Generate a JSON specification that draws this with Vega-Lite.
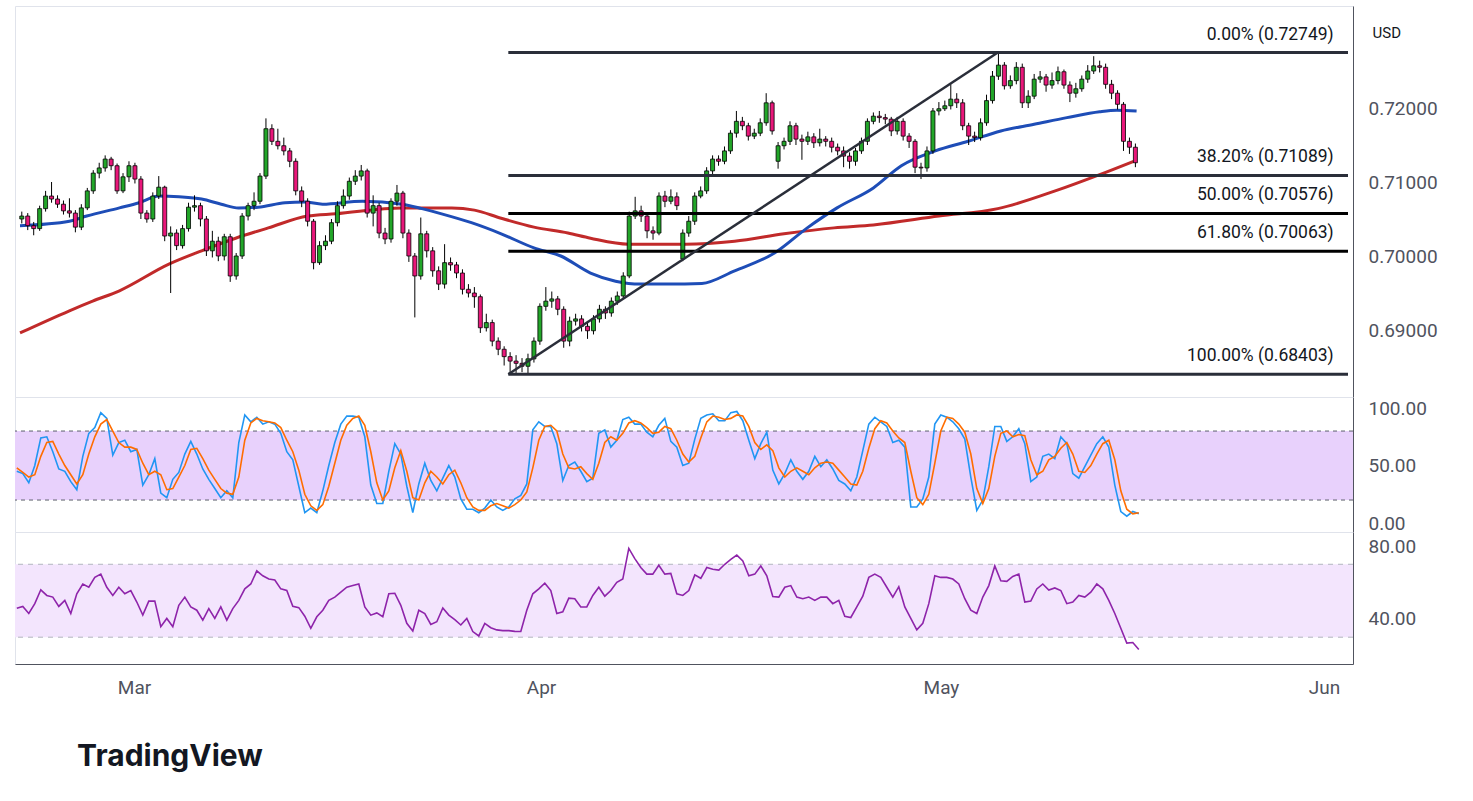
{
"$schema":"https://vega.github.io/schema/vega-lite/v6.json",
"background":"white",
"padding":{"left":13,"top":5,"right":10,"bottom":10},
"bounds":"flush",
"spacing":0,
"config":{"view":{"stroke":"#e0e3eb"},"font":"Roboto","axis":{"grid":false,"ticks":false}},
"title":{"text":"TradingView","orient":"bottom","anchor":"start","dx":64,"offset":44,"font":"Inter","fontSize":30,"fontWeight":"bold","color":"#131722"},
"datasets":{
"fib":[{"p":0.72749,"t":"0.00% (0.72749)"},{"p":0.71089,"t":"38.20% (0.71089)"},{"p":0.70576,"t":"50.00% (0.70576)"},{"p":0.70063,"t":"61.80% (0.70063)"},{"p":0.68403,"t":"100.00% (0.68403)"}],
"blue":[{"i":-0.3,"v":0.7041},{"i":8.0,"v":0.7047},{"i":10.9,"v":0.7054},{"i":16.4,"v":0.7065},{"i":19.7,"v":0.7072},{"i":23.0,"v":0.7081},{"i":26.4,"v":0.7080},{"i":30.2,"v":0.7077},{"i":33.5,"v":0.7070},{"i":36.4,"v":0.7065},{"i":39.7,"v":0.7066},{"i":44.2,"v":0.7072},{"i":47.5,"v":0.7073},{"i":50.5,"v":0.7070},{"i":57.2,"v":0.7074},{"i":63.9,"v":0.7070},{"i":67.2,"v":0.7064},{"i":70.5,"v":0.7057},{"i":75.5,"v":0.7045},{"i":80.5,"v":0.7030},{"i":86.0,"v":0.7011},{"i":90.5,"v":0.7000},{"i":95.5,"v":0.6977},{"i":99.7,"v":0.6966},{"i":103.9,"v":0.6962},{"i":108.5,"v":0.6962},{"i":114.2,"v":0.6963},{"i":119.7,"v":0.6980},{"i":126.4,"v":0.7004},{"i":131.9,"v":0.7038},{"i":136.9,"v":0.7065},{"i":143.0,"v":0.7092},{"i":147.7,"v":0.7122},{"i":153.4,"v":0.7142},{"i":158.9,"v":0.7155},{"i":164.4,"v":0.7169},{"i":170.0,"v":0.7178},{"i":175.5,"v":0.7187},{"i":181.0,"v":0.7195},{"i":183.9,"v":0.7197},{"i":187.2,"v":0.7196}],
"red":[{"i":-0.3,"v":0.6896},{"i":8.0,"v":0.6926},{"i":11.9,"v":0.6939},{"i":16.4,"v":0.6953},{"i":24.7,"v":0.6989},{"i":30.2,"v":0.7007},{"i":35.9,"v":0.7024},{"i":41.4,"v":0.7038},{"i":48.0,"v":0.7054},{"i":52.7,"v":0.7057},{"i":63.9,"v":0.7065},{"i":72.2,"v":0.7065},{"i":76.0,"v":0.7062},{"i":80.5,"v":0.7051},{"i":86.0,"v":0.7039},{"i":91.7,"v":0.7031},{"i":95.5,"v":0.7024},{"i":101.9,"v":0.7016},{"i":111.4,"v":0.7016},{"i":119.7,"v":0.7020},{"i":128.0,"v":0.7030},{"i":136.4,"v":0.7038},{"i":143.0,"v":0.7042},{"i":154.0,"v":0.7054},{"i":163.9,"v":0.7064},{"i":173.9,"v":0.7089},{"i":181.0,"v":0.7110},{"i":186.7,"v":0.7128}],
"bars":[
{"i":0,"o":0.7050,"h":0.7060,"l":0.7044,"c":0.7054,"k":45,"d":48,"r":45.9},
{"i":1,"o":0.7054,"h":0.7058,"l":0.7035,"c":0.7041,"k":43,"d":44,"r":46.9},
{"i":2,"o":0.7041,"h":0.7046,"l":0.7028,"c":0.7037,"k":35,"d":40,"r":43},
{"i":3,"o":0.7037,"h":0.7068,"l":0.7034,"c":0.7064,"k":50,"d":42,"r":48.4},
{"i":4,"o":0.7064,"h":0.7088,"l":0.7060,"c":0.7081,"k":74,"d":58,"r":56},
{"i":5,"o":0.7081,"h":0.7100,"l":0.7072,"c":0.7077,"k":75,"d":70,"r":52.9},
{"i":6,"o":0.7077,"h":0.7082,"l":0.7065,"c":0.7070,"k":62,"d":71,"r":52},
{"i":7,"o":0.7070,"h":0.7075,"l":0.7056,"c":0.7061,"k":47,"d":60,"r":46.9},
{"i":8,"o":0.7061,"h":0.7078,"l":0.7052,"c":0.7058,"k":45,"d":50,"r":50.2},
{"i":9,"o":0.7058,"h":0.7062,"l":0.7032,"c":0.7039,"k":36,"d":42,"r":43},
{"i":10,"o":0.7039,"h":0.7070,"l":0.7035,"c":0.7065,"k":29,"d":34,"r":53.8},
{"i":11,"o":0.7065,"h":0.7092,"l":0.7062,"c":0.7088,"k":58,"d":42,"r":59.2},
{"i":12,"o":0.7088,"h":0.7116,"l":0.7084,"c":0.7112,"k":78,"d":60,"r":57.4},
{"i":13,"o":0.7112,"h":0.7126,"l":0.7105,"c":0.7119,"k":83,"d":75,"r":62.8},
{"i":14,"o":0.7119,"h":0.7136,"l":0.7114,"c":0.7131,"k":96,"d":86,"r":64.6},
{"i":15,"o":0.7131,"h":0.7134,"l":0.7116,"c":0.7122,"k":91,"d":90,"r":57.4},
{"i":16,"o":0.7122,"h":0.7125,"l":0.7084,"c":0.7088,"k":59,"d":80,"r":52.9},
{"i":17,"o":0.7088,"h":0.7112,"l":0.7085,"c":0.7107,"k":70,"d":70,"r":57.4},
{"i":18,"o":0.7107,"h":0.7128,"l":0.7100,"c":0.7122,"k":72,"d":66,"r":53.8},
{"i":19,"o":0.7122,"h":0.7126,"l":0.7098,"c":0.7104,"k":62,"d":66,"r":55.6},
{"i":20,"o":0.7104,"h":0.7108,"l":0.7050,"c":0.7058,"k":64,"d":64,"r":49.3},
{"i":21,"o":0.7058,"h":0.7062,"l":0.7045,"c":0.7050,"k":33,"d":52,"r":42.1},
{"i":22,"o":0.7050,"h":0.7086,"l":0.7046,"c":0.7081,"k":42,"d":42,"r":49.8},
{"i":23,"o":0.7081,"h":0.7108,"l":0.7077,"c":0.7093,"k":56,"d":45,"r":49.8},
{"i":24,"o":0.7093,"h":0.7095,"l":0.7020,"c":0.7027,"k":26,"d":42,"r":35.8},
{"i":25,"o":0.7027,"h":0.7040,"l":0.6950,"c":0.7031,"k":22,"d":29,"r":40.3},
{"i":26,"o":0.7031,"h":0.7036,"l":0.7008,"c":0.7014,"k":38,"d":30,"r":35.8},
{"i":27,"o":0.7014,"h":0.7042,"l":0.7010,"c":0.7037,"k":44,"d":40,"r":47.5},
{"i":28,"o":0.7037,"h":0.7072,"l":0.7033,"c":0.7066,"k":60,"d":50,"r":52},
{"i":29,"o":0.7066,"h":0.7082,"l":0.7060,"c":0.7068,"k":71,"d":64,"r":46.6},
{"i":30,"o":0.7068,"h":0.7072,"l":0.7040,"c":0.7050,"k":60,"d":65,"r":44.8},
{"i":31,"o":0.7050,"h":0.7054,"l":0.7000,"c":0.7007,"k":47,"d":56,"r":39.4},
{"i":32,"o":0.7007,"h":0.7034,"l":0.6998,"c":0.7020,"k":38,"d":46,"r":45.7},
{"i":33,"o":0.7020,"h":0.7026,"l":0.6993,"c":0.7000,"k":30,"d":38,"r":40.3},
{"i":34,"o":0.7000,"h":0.7030,"l":0.6994,"c":0.7026,"k":22,"d":30,"r":46.6},
{"i":35,"o":0.7026,"h":0.7030,"l":0.6965,"c":0.6973,"k":28,"d":26,"r":39.4},
{"i":36,"o":0.6973,"h":0.7004,"l":0.6968,"c":0.7000,"k":22,"d":25,"r":45.7},
{"i":37,"o":0.7000,"h":0.7058,"l":0.6996,"c":0.7054,"k":70,"d":40,"r":50.2},
{"i":38,"o":0.7054,"h":0.7072,"l":0.7048,"c":0.7068,"k":94,"d":72,"r":56.5},
{"i":39,"o":0.7068,"h":0.7086,"l":0.7062,"c":0.7074,"k":88,"d":87,"r":59.2},
{"i":40,"o":0.7074,"h":0.7112,"l":0.7070,"c":0.7108,"k":92,"d":91,"r":66.4},
{"i":41,"o":0.7108,"h":0.7186,"l":0.7104,"c":0.7172,"k":86,"d":89,"r":63.7},
{"i":42,"o":0.7172,"h":0.7178,"l":0.7150,"c":0.7155,"k":88,"d":88,"r":61.9},
{"i":43,"o":0.7155,"h":0.7172,"l":0.7144,"c":0.7149,"k":86,"d":87,"r":61.4},
{"i":44,"o":0.7149,"h":0.7160,"l":0.7136,"c":0.7142,"k":78,"d":83,"r":56.5},
{"i":45,"o":0.7142,"h":0.7146,"l":0.7120,"c":0.7128,"k":62,"d":72,"r":55.6},
{"i":46,"o":0.7128,"h":0.7132,"l":0.7082,"c":0.7088,"k":55,"d":62,"r":46.9},
{"i":47,"o":0.7088,"h":0.7094,"l":0.7066,"c":0.7074,"k":32,"d":46,"r":46.2},
{"i":48,"o":0.7074,"h":0.7078,"l":0.7040,"c":0.7047,"k":9,"d":25,"r":41.5},
{"i":49,"o":0.7047,"h":0.7050,"l":0.6982,"c":0.6991,"k":13,"d":15,"r":34.9},
{"i":50,"o":0.6991,"h":0.7020,"l":0.6988,"c":0.7014,"k":9,"d":11,"r":41.2},
{"i":51,"o":0.7014,"h":0.7028,"l":0.7008,"c":0.7020,"k":28,"d":16,"r":44.8},
{"i":52,"o":0.7020,"h":0.7050,"l":0.7016,"c":0.7045,"k":50,"d":32,"r":50.2},
{"i":53,"o":0.7045,"h":0.7074,"l":0.7040,"c":0.7068,"k":70,"d":52,"r":52},
{"i":54,"o":0.7068,"h":0.7090,"l":0.7064,"c":0.7081,"k":86,"d":72,"r":54.7},
{"i":55,"o":0.7081,"h":0.7106,"l":0.7076,"c":0.7101,"k":93,"d":85,"r":57.4},
{"i":56,"o":0.7101,"h":0.7116,"l":0.7096,"c":0.7108,"k":93,"d":91,"r":58.3},
{"i":57,"o":0.7108,"h":0.7123,"l":0.7102,"c":0.7115,"k":92,"d":93,"r":59.2},
{"i":58,"o":0.7115,"h":0.7118,"l":0.7052,"c":0.7058,"k":75,"d":85,"r":46.6},
{"i":59,"o":0.7058,"h":0.7082,"l":0.7040,"c":0.7068,"k":33,"d":62,"r":42.1},
{"i":60,"o":0.7068,"h":0.7072,"l":0.7024,"c":0.7031,"k":17,"d":35,"r":43.3},
{"i":61,"o":0.7031,"h":0.7038,"l":0.7016,"c":0.7023,"k":17,"d":20,"r":41.2},
{"i":62,"o":0.7023,"h":0.7078,"l":0.7018,"c":0.7074,"k":45,"d":28,"r":53.8},
{"i":63,"o":0.7074,"h":0.7096,"l":0.7068,"c":0.7085,"k":69,"d":48,"r":54.1},
{"i":64,"o":0.7085,"h":0.7088,"l":0.7024,"c":0.7031,"k":60,"d":63,"r":47.5},
{"i":65,"o":0.7031,"h":0.7036,"l":0.6992,"c":0.7000,"k":32,"d":45,"r":37.6},
{"i":66,"o":0.7000,"h":0.7004,"l":0.6917,"c":0.6973,"k":9,"d":22,"r":33.4},
{"i":67,"o":0.6973,"h":0.7052,"l":0.6968,"c":0.7030,"k":34,"d":20,"r":44.8},
{"i":68,"o":0.7030,"h":0.7034,"l":0.6998,"c":0.7007,"k":52,"d":35,"r":43},
{"i":69,"o":0.7007,"h":0.7012,"l":0.6972,"c":0.6980,"k":37,"d":45,"r":37},
{"i":70,"o":0.6980,"h":0.6986,"l":0.6954,"c":0.6962,"k":28,"d":40,"r":38.5},
{"i":71,"o":0.6962,"h":0.7016,"l":0.6956,"c":0.6991,"k":39,"d":34,"r":46},
{"i":72,"o":0.6991,"h":0.6998,"l":0.6980,"c":0.6988,"k":50,"d":42,"r":42.1},
{"i":73,"o":0.6988,"h":0.6992,"l":0.6970,"c":0.6977,"k":40,"d":46,"r":39.6},
{"i":74,"o":0.6977,"h":0.6982,"l":0.6948,"c":0.6955,"k":21,"d":35,"r":36.7},
{"i":75,"o":0.6955,"h":0.6962,"l":0.6944,"c":0.6950,"k":12,"d":22,"r":40.3},
{"i":76,"o":0.6950,"h":0.6958,"l":0.6930,"c":0.6945,"k":12,"d":14,"r":33.1},
{"i":77,"o":0.6945,"h":0.6948,"l":0.6896,"c":0.6903,"k":9,"d":11,"r":30.7},
{"i":78,"o":0.6903,"h":0.6922,"l":0.6898,"c":0.6910,"k":13,"d":11,"r":37.6},
{"i":79,"o":0.6910,"h":0.6914,"l":0.6878,"c":0.6885,"k":20,"d":15,"r":35.2},
{"i":80,"o":0.6885,"h":0.6890,"l":0.6866,"c":0.6874,"k":14,"d":17,"r":34},
{"i":81,"o":0.6874,"h":0.6878,"l":0.6852,"c":0.6864,"k":11,"d":15,"r":33.6},
{"i":82,"o":0.6864,"h":0.6870,"l":0.6840,"c":0.6858,"k":14,"d":13,"r":33.6},
{"i":83,"o":0.6858,"h":0.6866,"l":0.6842,"c":0.6855,"k":21,"d":16,"r":33.2},
{"i":84,"o":0.6855,"h":0.6862,"l":0.6843,"c":0.6851,"k":24,"d":20,"r":33.1},
{"i":85,"o":0.6851,"h":0.6868,"l":0.6841,"c":0.6861,"k":34,"d":27,"r":44.8},
{"i":86,"o":0.6861,"h":0.6890,"l":0.6856,"c":0.6885,"k":81,"d":48,"r":53.8},
{"i":87,"o":0.6885,"h":0.6936,"l":0.6880,"c":0.6932,"k":88,"d":72,"r":56.5},
{"i":88,"o":0.6932,"h":0.6958,"l":0.6926,"c":0.6939,"k":84,"d":84,"r":59.6},
{"i":89,"o":0.6939,"h":0.6952,"l":0.6930,"c":0.6942,"k":84,"d":85,"r":55.6},
{"i":90,"o":0.6942,"h":0.6946,"l":0.6920,"c":0.6928,"k":69,"d":80,"r":43},
{"i":91,"o":0.6928,"h":0.6932,"l":0.6876,"c":0.6885,"k":37,"d":60,"r":43.9},
{"i":92,"o":0.6885,"h":0.6918,"l":0.6878,"c":0.6912,"k":50,"d":48,"r":51.4},
{"i":93,"o":0.6912,"h":0.6922,"l":0.6906,"c":0.6915,"k":53,"d":47,"r":51.1},
{"i":94,"o":0.6915,"h":0.6920,"l":0.6898,"c":0.6905,"k":45,"d":49,"r":46.6},
{"i":95,"o":0.6905,"h":0.6910,"l":0.6888,"c":0.6899,"k":36,"d":43,"r":46.6},
{"i":96,"o":0.6899,"h":0.6920,"l":0.6894,"c":0.6915,"k":39,"d":38,"r":52.9},
{"i":97,"o":0.6915,"h":0.6934,"l":0.6910,"c":0.6928,"k":78,"d":52,"r":57.4},
{"i":98,"o":0.6928,"h":0.6932,"l":0.6915,"c":0.6923,"k":81,"d":70,"r":52.5},
{"i":99,"o":0.6923,"h":0.6944,"l":0.6918,"c":0.6939,"k":66,"d":75,"r":55.6},
{"i":100,"o":0.6939,"h":0.6952,"l":0.6934,"c":0.6946,"k":72,"d":72,"r":60.1},
{"i":101,"o":0.6946,"h":0.6978,"l":0.6942,"c":0.6973,"k":90,"d":78,"r":61.9},
{"i":102,"o":0.6973,"h":0.7060,"l":0.6970,"c":0.7054,"k":92,"d":87,"r":78.7},
{"i":103,"o":0.7054,"h":0.7080,"l":0.7050,"c":0.7061,"k":86,"d":89,"r":73.1},
{"i":104,"o":0.7061,"h":0.7068,"l":0.7046,"c":0.7054,"k":86,"d":87,"r":68.2},
{"i":105,"o":0.7054,"h":0.7058,"l":0.7024,"c":0.7034,"k":79,"d":83,"r":64.6},
{"i":106,"o":0.7034,"h":0.7040,"l":0.7022,"c":0.7031,"k":75,"d":78,"r":64.6},
{"i":107,"o":0.7031,"h":0.7086,"l":0.7028,"c":0.7081,"k":85,"d":79,"r":69.5},
{"i":108,"o":0.7081,"h":0.7088,"l":0.7066,"c":0.7074,"k":91,"d":84,"r":64.6},
{"i":109,"o":0.7074,"h":0.7090,"l":0.7070,"c":0.7080,"k":71,"d":82,"r":65},
{"i":110,"o":0.7080,"h":0.7086,"l":0.7062,"c":0.7068,"k":66,"d":72,"r":53.8},
{"i":111,"o":0.6996,"h":0.7036,"l":0.6993,"c":0.7031,"k":50,"d":60,"r":52.9},
{"i":112,"o":0.7031,"h":0.7054,"l":0.7026,"c":0.7047,"k":52,"d":53,"r":55.6},
{"i":113,"o":0.7047,"h":0.7086,"l":0.7042,"c":0.7081,"k":73,"d":58,"r":64.2},
{"i":114,"o":0.7081,"h":0.7094,"l":0.7078,"c":0.7088,"k":91,"d":74,"r":62.3},
{"i":115,"o":0.7088,"h":0.7120,"l":0.7084,"c":0.7115,"k":94,"d":88,"r":68.2},
{"i":116,"o":0.7115,"h":0.7136,"l":0.7110,"c":0.7131,"k":95,"d":93,"r":67.3},
{"i":117,"o":0.7131,"h":0.7136,"l":0.7122,"c":0.7128,"k":89,"d":92,"r":66.8},
{"i":118,"o":0.7128,"h":0.7148,"l":0.7124,"c":0.7142,"k":89,"d":90,"r":70},
{"i":119,"o":0.7142,"h":0.7170,"l":0.7138,"c":0.7166,"k":96,"d":91,"r":72.7},
{"i":120,"o":0.7166,"h":0.7196,"l":0.7160,"c":0.7182,"k":97,"d":94,"r":75},
{"i":121,"o":0.7182,"h":0.7188,"l":0.7170,"c":0.7176,"k":89,"d":93,"r":71.8},
{"i":122,"o":0.7176,"h":0.7180,"l":0.7156,"c":0.7162,"k":72,"d":84,"r":63.7},
{"i":123,"o":0.7162,"h":0.7172,"l":0.7158,"c":0.7166,"k":56,"d":70,"r":64.6},
{"i":124,"o":0.7166,"h":0.7186,"l":0.7162,"c":0.7180,"k":69,"d":64,"r":69.1},
{"i":125,"o":0.7180,"h":0.7220,"l":0.7176,"c":0.7207,"k":79,"d":68,"r":63.7},
{"i":126,"o":0.7207,"h":0.7210,"l":0.7164,"c":0.7169,"k":46,"d":63,"r":52.3},
{"i":127,"o":0.7128,"h":0.7154,"l":0.7118,"c":0.7149,"k":34,"d":48,"r":52},
{"i":128,"o":0.7149,"h":0.7160,"l":0.7144,"c":0.7155,"k":43,"d":40,"r":57.4},
{"i":129,"o":0.7155,"h":0.7182,"l":0.7150,"c":0.7176,"k":55,"d":45,"r":58.3},
{"i":130,"o":0.7176,"h":0.7180,"l":0.7150,"c":0.7158,"k":45,"d":48,"r":52},
{"i":131,"o":0.7158,"h":0.7164,"l":0.7130,"c":0.7155,"k":38,"d":45,"r":51.1},
{"i":132,"o":0.7155,"h":0.7168,"l":0.7150,"c":0.7161,"k":45,"d":42,"r":52},
{"i":133,"o":0.7161,"h":0.7166,"l":0.7146,"c":0.7153,"k":58,"d":48,"r":50.2},
{"i":134,"o":0.7153,"h":0.7172,"l":0.7148,"c":0.7158,"k":49,"d":52,"r":52},
{"i":135,"o":0.7158,"h":0.7162,"l":0.7148,"c":0.7155,"k":55,"d":53,"r":52},
{"i":136,"o":0.7155,"h":0.7160,"l":0.7140,"c":0.7147,"k":47,"d":52,"r":48.4},
{"i":137,"o":0.7147,"h":0.7152,"l":0.7136,"c":0.7142,"k":37,"d":46,"r":50.2},
{"i":138,"o":0.7142,"h":0.7148,"l":0.7120,"c":0.7135,"k":34,"d":40,"r":41.5},
{"i":139,"o":0.7135,"h":0.7140,"l":0.7118,"c":0.7128,"k":28,"d":34,"r":40.8},
{"i":140,"o":0.7128,"h":0.7146,"l":0.7122,"c":0.7142,"k":40,"d":33,"r":46.6},
{"i":141,"o":0.7142,"h":0.7160,"l":0.7138,"c":0.7155,"k":63,"d":45,"r":52.5},
{"i":142,"o":0.7155,"h":0.7186,"l":0.7150,"c":0.7182,"k":86,"d":65,"r":62.8},
{"i":143,"o":0.7182,"h":0.7194,"l":0.7178,"c":0.7189,"k":92,"d":82,"r":64.6},
{"i":144,"o":0.7189,"h":0.7196,"l":0.7180,"c":0.7187,"k":88,"d":89,"r":62.8},
{"i":145,"o":0.7187,"h":0.7192,"l":0.7178,"c":0.7185,"k":84,"d":87,"r":57.4},
{"i":146,"o":0.7185,"h":0.7188,"l":0.7162,"c":0.7169,"k":70,"d":80,"r":52},
{"i":147,"o":0.7169,"h":0.7188,"l":0.7164,"c":0.7182,"k":72,"d":74,"r":57.7},
{"i":148,"o":0.7182,"h":0.7186,"l":0.7156,"c":0.7162,"k":66,"d":70,"r":46.6},
{"i":149,"o":0.7162,"h":0.7166,"l":0.7146,"c":0.7155,"k":14,"d":45,"r":40.3},
{"i":150,"o":0.7155,"h":0.7158,"l":0.7112,"c":0.7120,"k":14,"d":22,"r":34},
{"i":151,"o":0.7120,"h":0.7126,"l":0.7104,"c":0.7119,"k":21,"d":16,"r":37.6},
{"i":152,"o":0.7119,"h":0.7148,"l":0.7114,"c":0.7142,"k":40,"d":25,"r":48.4},
{"i":153,"o":0.7142,"h":0.7200,"l":0.7138,"c":0.7196,"k":86,"d":52,"r":63.7},
{"i":154,"o":0.7196,"h":0.7208,"l":0.7190,"c":0.7199,"k":94,"d":80,"r":62.8},
{"i":155,"o":0.7199,"h":0.7210,"l":0.7196,"c":0.7203,"k":92,"d":92,"r":62.8},
{"i":156,"o":0.7203,"h":0.7232,"l":0.7198,"c":0.7212,"k":88,"d":91,"r":61.9},
{"i":157,"o":0.7212,"h":0.7220,"l":0.7200,"c":0.7207,"k":82,"d":86,"r":59.2},
{"i":158,"o":0.7207,"h":0.7212,"l":0.7170,"c":0.7176,"k":73,"d":79,"r":51.1},
{"i":159,"o":0.7176,"h":0.7180,"l":0.7150,"c":0.7162,"k":40,"d":60,"r":44.8},
{"i":160,"o":0.7162,"h":0.7168,"l":0.7154,"c":0.7160,"k":11,"d":30,"r":43},
{"i":161,"o":0.7160,"h":0.7186,"l":0.7156,"c":0.7180,"k":20,"d":17,"r":52},
{"i":162,"o":0.7180,"h":0.7218,"l":0.7176,"c":0.7210,"k":49,"d":30,"r":58.3},
{"i":163,"o":0.7210,"h":0.7250,"l":0.7206,"c":0.7243,"k":84,"d":58,"r":69.1},
{"i":164,"o":0.7243,"h":0.72749,"l":0.7238,"c":0.7258,"k":84,"d":78,"r":61},
{"i":165,"o":0.7258,"h":0.7262,"l":0.7225,"c":0.7230,"k":71,"d":80,"r":60.6},
{"i":166,"o":0.7230,"h":0.7244,"l":0.7226,"c":0.7237,"k":75,"d":75,"r":63.3},
{"i":167,"o":0.7237,"h":0.7262,"l":0.7232,"c":0.7255,"k":82,"d":77,"r":64.6},
{"i":168,"o":0.7255,"h":0.7260,"l":0.7200,"c":0.7207,"k":69,"d":76,"r":49.3},
{"i":169,"o":0.7207,"h":0.7224,"l":0.7200,"c":0.7216,"k":36,"d":55,"r":49.8},
{"i":170,"o":0.7216,"h":0.7246,"l":0.7212,"c":0.7239,"k":40,"d":42,"r":56.5},
{"i":171,"o":0.7239,"h":0.7250,"l":0.7234,"c":0.7242,"k":58,"d":45,"r":59.2},
{"i":172,"o":0.7242,"h":0.7246,"l":0.7222,"c":0.7231,"k":60,"d":55,"r":55.9},
{"i":173,"o":0.7231,"h":0.7248,"l":0.7226,"c":0.7237,"k":56,"d":58,"r":57},
{"i":174,"o":0.7237,"h":0.7256,"l":0.7232,"c":0.7249,"k":75,"d":65,"r":55.6},
{"i":175,"o":0.7249,"h":0.7252,"l":0.7226,"c":0.7231,"k":69,"d":70,"r":48.4},
{"i":176,"o":0.7231,"h":0.7236,"l":0.7208,"c":0.7220,"k":43,"d":60,"r":49.3},
{"i":177,"o":0.7220,"h":0.7234,"l":0.7214,"c":0.7226,"k":39,"d":45,"r":52.9},
{"i":178,"o":0.7226,"h":0.7244,"l":0.7222,"c":0.7239,"k":49,"d":44,"r":52},
{"i":179,"o":0.7239,"h":0.7258,"l":0.7234,"c":0.7250,"k":59,"d":50,"r":54.7},
{"i":180,"o":0.7250,"h":0.7270,"l":0.7246,"c":0.7257,"k":69,"d":60,"r":59.2},
{"i":181,"o":0.7257,"h":0.7264,"l":0.7248,"c":0.7255,"k":75,"d":69,"r":56.5},
{"i":182,"o":0.7255,"h":0.7260,"l":0.7226,"c":0.7232,"k":66,"d":72,"r":50.2},
{"i":183,"o":0.7232,"h":0.7238,"l":0.7212,"c":0.7220,"k":33,"d":55,"r":43},
{"i":184,"o":0.7220,"h":0.7224,"l":0.7198,"c":0.7205,"k":10,"d":28,"r":34.9},
{"i":185,"o":0.7205,"h":0.7208,"l":0.7142,"c":0.7155,"k":6,"d":12,"r":26.8},
{"i":186,"o":0.7155,"h":0.7160,"l":0.7138,"c":0.7147,"k":10,"d":8,"r":27.1},
{"i":187,"o":0.7147,"h":0.7152,"l":0.7120,"c":0.7126,"k":8,"d":9,"r":23.2}
]},
"vconcat":[
{"width":1338,"height":391,
"layer":[
{"data":{"name":"red"},"mark":{"type":"line","color":"#c12a2a","strokeWidth":3,"interpolate":"monotone","clip":true},
"encoding":{"x":{"field":"i","type":"quantitative","scale":{"domain":[-0.3,222.7],"nice":false,"zero":false},"axis":null},
"y":{"field":"v","type":"quantitative","scale":{"domain":[0.680946,0.733784],"nice":false,"zero":false},"axis":{"orient":"right","values":[0.69,0.70,0.71,0.72],"format":".5f","labelFontSize":19,"labelColor":"#50535e","labelPadding":15,"ticks":false,"domainColor":"#50535e","grid":false,"title":"USD","titleAngle":0,"titleAlign":"left","titleBaseline":"middle","titleX":19,"titleY":26,"titleFontSize":15,"titleFontWeight":"normal","titleColor":"#131722","titleFont":"Roboto"}}}},
{"data":{"name":"blue"},"mark":{"type":"line","color":"#1e4db7","strokeWidth":3,"interpolate":"monotone","clip":true},
"encoding":{"x":{"field":"i","type":"quantitative","scale":{"domain":[-0.3,222.7],"nice":false,"zero":false},"axis":null},
"y":{"field":"v","type":"quantitative","scale":{"domain":[0.680946,0.733784],"nice":false,"zero":false},"axis":{"orient":"right","values":[0.69,0.70,0.71,0.72],"format":".5f","labelFontSize":19,"labelColor":"#50535e","labelPadding":15,"ticks":false,"domainColor":"#50535e","grid":false,"title":"USD","titleAngle":0,"titleAlign":"left","titleBaseline":"middle","titleX":19,"titleY":26,"titleFontSize":15,"titleFontWeight":"normal","titleColor":"#131722","titleFont":"Roboto"}}}},
{"data":{"name":"bars"},"mark":{"type":"rule","color":"#000000","strokeWidth":1},
"encoding":{"x":{"field":"i","type":"quantitative","scale":{"domain":[-0.3,222.7],"nice":false,"zero":false},"axis":null},
"y":{"field":"l","type":"quantitative","scale":{"domain":[0.680946,0.733784],"nice":false,"zero":false},"axis":{"orient":"right","values":[0.69,0.70,0.71,0.72],"format":".5f","labelFontSize":19,"labelColor":"#50535e","labelPadding":15,"ticks":false,"domainColor":"#50535e","grid":false,"title":"USD","titleAngle":0,"titleAlign":"left","titleBaseline":"middle","titleX":19,"titleY":26,"titleFontSize":15,"titleFontWeight":"normal","titleColor":"#131722","titleFont":"Roboto"}},"y2":{"field":"h"}}},
{"data":{"name":"bars"},"mark":{"type":"bar","width":4,"stroke":"#000000","strokeWidth":0.8},
"encoding":{"x":{"field":"i","type":"quantitative","scale":{"domain":[-0.3,222.7],"nice":false,"zero":false},"axis":null},
"y":{"field":"o","type":"quantitative","scale":{"domain":[0.680946,0.733784],"nice":false,"zero":false},"axis":{"orient":"right","values":[0.69,0.70,0.71,0.72],"format":".5f","labelFontSize":19,"labelColor":"#50535e","labelPadding":15,"ticks":false,"domainColor":"#50535e","grid":false,"title":"USD","titleAngle":0,"titleAlign":"left","titleBaseline":"middle","titleX":19,"titleY":26,"titleFontSize":15,"titleFontWeight":"normal","titleColor":"#131722","titleFont":"Roboto"}},"y2":{"field":"c"},
"fill":{"condition":{"test":"datum.c >= datum.o","value":"#22a629"},"value":"#e9177a"}}},
{"data":{"name":"fib"},"mark":{"type":"rule","strokeWidth":3},
"encoding":{"x":{"datum":81.7,"type":"quantitative","scale":{"domain":[-0.3,222.7],"nice":false,"zero":false},"axis":null},"x2":{"datum":222.7},
"y":{"field":"p","type":"quantitative","scale":{"domain":[0.680946,0.733784],"nice":false,"zero":false},"axis":{"orient":"right","values":[0.69,0.70,0.71,0.72],"format":".5f","labelFontSize":19,"labelColor":"#50535e","labelPadding":15,"ticks":false,"domainColor":"#50535e","grid":false,"title":"USD","titleAngle":0,"titleAlign":"left","titleBaseline":"middle","titleX":19,"titleY":26,"titleFontSize":15,"titleFontWeight":"normal","titleColor":"#131722","titleFont":"Roboto"}},
"color":{"condition":{"test":"datum.p == 0.70576 || datum.p == 0.70063","value":"#000000"},"value":"#2a2e39"}}},
{"data":{"values":[{}]},"mark":{"type":"rule","color":"#2a2e39","strokeWidth":2.5},
"encoding":{"x":{"datum":81.7,"type":"quantitative","scale":{"domain":[-0.3,222.7],"nice":false,"zero":false},"axis":null},"x2":{"datum":163.9},
"y":{"datum":0.68403,"type":"quantitative","scale":{"domain":[0.680946,0.733784],"nice":false,"zero":false},"axis":{"orient":"right","values":[0.69,0.70,0.71,0.72],"format":".5f","labelFontSize":19,"labelColor":"#50535e","labelPadding":15,"ticks":false,"domainColor":"#50535e","grid":false,"title":"USD","titleAngle":0,"titleAlign":"left","titleBaseline":"middle","titleX":19,"titleY":26,"titleFontSize":15,"titleFontWeight":"normal","titleColor":"#131722","titleFont":"Roboto"}},"y2":{"datum":0.72749}}},
{"data":{"name":"fib"},"mark":{"type":"text","align":"right","baseline":"alphabetic","dy":-13,"fontSize":17.5,"color":"#131722","font":"Roboto"},
"encoding":{"x":{"datum":220.3,"type":"quantitative","scale":{"domain":[-0.3,222.7],"nice":false,"zero":false},"axis":null},
"y":{"field":"p","type":"quantitative","scale":{"domain":[0.680946,0.733784],"nice":false,"zero":false},"axis":{"orient":"right","values":[0.69,0.70,0.71,0.72],"format":".5f","labelFontSize":19,"labelColor":"#50535e","labelPadding":15,"ticks":false,"domainColor":"#50535e","grid":false,"title":"USD","titleAngle":0,"titleAlign":"left","titleBaseline":"middle","titleX":19,"titleY":26,"titleFontSize":15,"titleFontWeight":"normal","titleColor":"#131722","titleFont":"Roboto"}},"text":{"field":"t"}}}
]},
{"width":1338,"height":135,
"layer":[
{"data":{"values":[{}]},"mark":{"type":"rect","color":"#e8d1fc"},
"encoding":{"x":{"datum":-0.3,"type":"quantitative","scale":{"domain":[-0.3,222.7],"nice":false,"zero":false},"axis":null},"x2":{"datum":222.7},
"y":{"datum":20,"type":"quantitative","scale":{"domain":[-7.8,109.6],"nice":false,"zero":false},"axis":{"orient":"right","values":[0,50,100],"format":".2f","labelFontSize":19,"labelColor":"#50535e","labelPadding":15,"ticks":false,"domainColor":"#50535e","grid":false,"title":null}},"y2":{"datum":80}}},
{"data":{"values":[{"lv":80},{"lv":20}]},"mark":{"type":"rule","color":"#5d606b","strokeDash":[4,4],"strokeWidth":1},
"encoding":{"y":{"field":"lv","type":"quantitative","scale":{"domain":[-7.8,109.6],"nice":false,"zero":false},"axis":{"orient":"right","values":[0,50,100],"format":".2f","labelFontSize":19,"labelColor":"#50535e","labelPadding":15,"ticks":false,"domainColor":"#50535e","grid":false,"title":null}}}},
{"data":{"name":"bars"},"mark":{"type":"line","color":"#2196f3","strokeWidth":1.6},
"encoding":{"x":{"field":"i","type":"quantitative","scale":{"domain":[-0.3,222.7],"nice":false,"zero":false},"axis":null},
"y":{"field":"k","type":"quantitative","scale":{"domain":[-7.8,109.6],"nice":false,"zero":false},"axis":{"orient":"right","values":[0,50,100],"format":".2f","labelFontSize":19,"labelColor":"#50535e","labelPadding":15,"ticks":false,"domainColor":"#50535e","grid":false,"title":null}}}},
{"data":{"name":"bars"},"mark":{"type":"line","color":"#ff6d00","strokeWidth":1.6},
"encoding":{"x":{"field":"i","type":"quantitative","scale":{"domain":[-0.3,222.7],"nice":false,"zero":false},"axis":null},
"y":{"field":"d","type":"quantitative","scale":{"domain":[-7.8,109.6],"nice":false,"zero":false},"axis":{"orient":"right","values":[0,50,100],"format":".2f","labelFontSize":19,"labelColor":"#50535e","labelPadding":15,"ticks":false,"domainColor":"#50535e","grid":false,"title":null}}}}
]},
{"width":1338,"height":132,
"layer":[
{"data":{"values":[{}]},"mark":{"type":"rect","color":"#f3e5fd"},
"encoding":{"x":{"datum":-0.3,"type":"quantitative","scale":{"domain":[-0.3,222.7],"nice":false,"zero":false},"axis":{"orient":"bottom","values":[19.53,87.37,154.03,217.87],"labelExpr":"datum.value < 50 ? 'Mar' : datum.value < 120 ? 'Apr' : datum.value < 190 ? 'May' : 'Jun'","labelFontSize":19,"labelColor":"#50535e","labelPadding":14,"ticks":false,"domainColor":"#50535e","grid":false,"title":null}},"x2":{"datum":222.7},
"y":{"datum":30,"type":"quantitative","scale":{"domain":[15.3,87.7],"nice":false,"zero":false},"axis":{"orient":"right","values":[40,80],"format":".2f","labelFontSize":19,"labelColor":"#50535e","labelPadding":15,"ticks":false,"domainColor":"#50535e","grid":false,"title":null}},"y2":{"datum":70}}},
{"data":{"values":[{"lv":70},{"lv":30}]},"mark":{"type":"rule","color":"#b2b5be","strokeDash":[5,5],"strokeWidth":1},
"encoding":{"y":{"field":"lv","type":"quantitative","scale":{"domain":[15.3,87.7],"nice":false,"zero":false},"axis":{"orient":"right","values":[40,80],"format":".2f","labelFontSize":19,"labelColor":"#50535e","labelPadding":15,"ticks":false,"domainColor":"#50535e","grid":false,"title":null}}}},
{"data":{"name":"bars"},"mark":{"type":"line","color":"#8e24aa","strokeWidth":1.6},
"encoding":{"x":{"field":"i","type":"quantitative","scale":{"domain":[-0.3,222.7],"nice":false,"zero":false},"axis":{"orient":"bottom","values":[19.53,87.37,154.03,217.87],"labelExpr":"datum.value < 50 ? 'Mar' : datum.value < 120 ? 'Apr' : datum.value < 190 ? 'May' : 'Jun'","labelFontSize":19,"labelColor":"#50535e","labelPadding":14,"ticks":false,"domainColor":"#50535e","grid":false,"title":null}},
"y":{"field":"r","type":"quantitative","scale":{"domain":[15.3,87.7],"nice":false,"zero":false},"axis":{"orient":"right","values":[40,80],"format":".2f","labelFontSize":19,"labelColor":"#50535e","labelPadding":15,"ticks":false,"domainColor":"#50535e","grid":false,"title":null}}}}
]}
]
}
